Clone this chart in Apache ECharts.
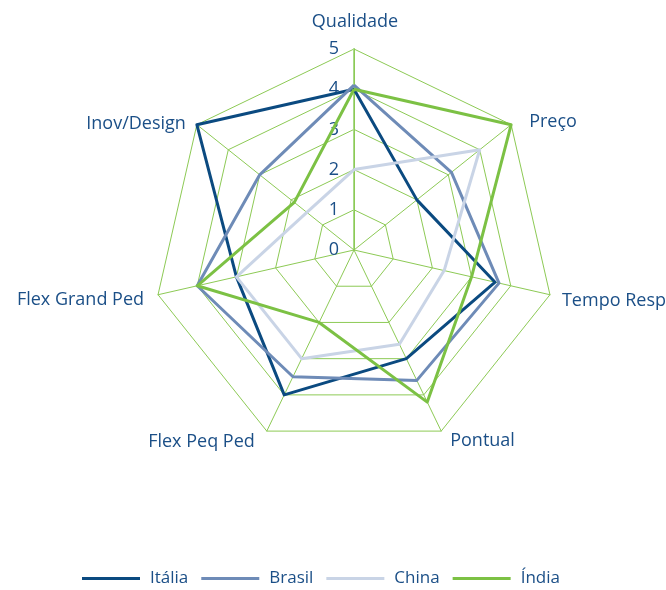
<!DOCTYPE html>
<html>
<head>
<meta charset="utf-8">
<script src="https://cdn.jsdelivr.net/npm/echarts@6/dist/echarts.min.js"></script>
<style>
  html, body { margin: 0; padding: 0; background: #ffffff; }
  #chart { width: 666px; height: 590px; }
</style>
</head>
<body>
<div id="chart"></div>
<script>
// Criteria, listed clockwise starting from the top
const categories = ['Qualidade', 'Preço', 'Tempo Resp', 'Pontual', 'Flex Peq Ped', 'Flex Grand Ped', 'Inov/Design'];
const seriesNames = ['Itália', 'Brasil', 'China', 'Índia'];

// Scores (0–5) per criterion, same order as categories
const italia = [4, 2, 3.6, 3, 4, 3, 5];
const brasil = [4.1, 3.1, 3.7, 3.6, 3.5, 4, 3];
const china  = [2, 4, 2.3, 2.6, 3, 3, 1.5];
const india  = [4, 5, 3, 4.2, 2, 4, 1.9];

const scaleMax = 5;
const scaleTicks = [0, 1, 2, 3, 4, 5];

const colors = ['#0b4a80', '#6e8bb7', '#c9d4e6', '#7cc144'];
const textColor = '#1b4f87';
const gridColor = '#8dca55';
const fontFamily = '"Open Sans", "Noto Sans", sans-serif';

// ECharts lays radar axes out counter-clockwise, so keep the first one and reverse the rest
const toRadarOrder = arr => [arr[0]].concat(arr.slice(1).reverse());

const center = [354, 250];
const radius = 201;

// Criterion captions sit just outside each outer vertex: [dx, dy, text alignment]
const captionLayout = [
  [1, -27, 'center'],
  [18, -3, 'left'],
  [12, 6, 'left'],
  [9, 10, 'left'],
  [-12, 11, 'right'],
  [-14, 5, 'right'],
  [-11, -1, 'right']
];

function captionGraphics() {
  const n = categories.length;
  return categories.map((name, i) => {
    const a = (i / n) * Math.PI * 2;
    const vx = center[0] + radius * Math.sin(a);
    const vy = center[1] - radius * Math.cos(a);
    const l = captionLayout[i];
    return {
      type: 'text',
      x: vx + l[0],
      y: vy + l[1],
      style: {
        text: name,
        fill: textColor,
        fontSize: 18,
        fontFamily: fontFamily,
        align: l[2],
        verticalAlign: 'middle'
      }
    };
  });
}

const chart = echarts.init(document.getElementById('chart'), null, { renderer: 'canvas' });

chart.setOption({
  animation: false,
  backgroundColor: '#ffffff',
  color: colors,
  legend: {
    data: seriesNames,
    left: 77,
    top: 565,
    icon: 'rect',
    itemWidth: 58,
    itemHeight: 3,
    itemGap: 13,
    textStyle: { color: textColor, fontSize: 17, fontFamily: fontFamily, padding: [0, 0, 0, 5] }
  },
  radar: {
    center: center,
    radius: radius,
    startAngle: 90,
    splitNumber: 5,
    shape: 'polygon',
    indicator: toRadarOrder(categories).map(name => ({ name: name, min: 0, max: scaleMax })),
    axisName: { show: false },
    axisLine: { lineStyle: { color: gridColor, width: 1 } },
    splitLine: { lineStyle: { color: gridColor, width: 1 } },
    splitArea: { show: false },
    axisTick: { show: false },
    axisLabel: { show: false }
  },
  // Value scale drawn once along the top axis
  polar: { center: center, radius: radius },
  angleAxis: {
    type: 'value',
    startAngle: 90,
    min: 0, max: 360,
    axisLine: { show: false },
    axisTick: { show: false },
    axisLabel: { show: false },
    splitLine: { show: false }
  },
  radiusAxis: {
    type: 'value',
    min: 0,
    max: scaleMax,
    interval: 1,
    axisLine: { show: true, lineStyle: { color: '#a9d98a', width: 2 } },
    axisTick: { show: false },
    splitLine: { show: false },
    axisLabel: {
      color: textColor, fontSize: 18, fontFamily: fontFamily, margin: 15,
      padding: [0, 0, 9, 0],
      formatter: v => scaleTicks.indexOf(v) >= 0 ? String(v) : ''
    }
  },
  graphic: captionGraphics(),
  series: [{
    type: 'radar',
    symbol: 'none',
    z: 3,
    lineStyle: { width: 3 },
    data: [
      { name: seriesNames[0], value: toRadarOrder(italia), lineStyle: { color: colors[0], width: 3 }, itemStyle: { color: colors[0] } },
      { name: seriesNames[1], value: toRadarOrder(brasil), lineStyle: { color: colors[1], width: 3 }, itemStyle: { color: colors[1] } },
      { name: seriesNames[2], value: toRadarOrder(china),  lineStyle: { color: colors[2], width: 3 }, itemStyle: { color: colors[2] } },
      { name: seriesNames[3], value: toRadarOrder(india),  lineStyle: { color: colors[3], width: 3 }, itemStyle: { color: colors[3] } }
    ]
  }]
});
</script>
</body>
</html>
